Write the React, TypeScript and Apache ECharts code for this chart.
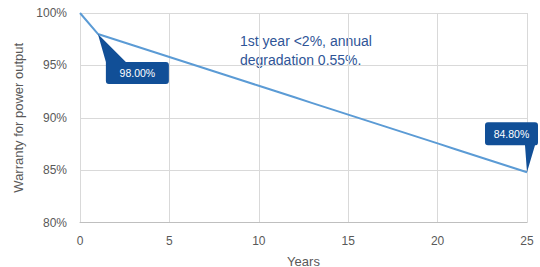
import React, { useEffect, useRef } from "react";
import * as echarts from "echarts";

const years = [0, 1, 2, 3, 4, 5, 6, 7, 8, 9, 10, 11, 12, 13, 14, 15, 16, 17, 18, 19, 20, 21, 22, 23, 24, 25];
const warranty = [100, 98, 97.45, 96.9, 96.35, 95.8, 95.25, 94.7, 94.15, 93.6, 93.05, 92.5, 91.95, 91.4, 90.85, 90.3, 89.75, 89.2, 88.65, 88.1, 87.55, 87.0, 86.45, 85.9, 85.35, 84.8];
const calloutYears = [1, 25];
const noteLines = ["1st year <2%, annual", "degradation 0.55%."];

const FONT = "Liberation Sans";
const CALLOUT_A = "path://M0 0 L28 28 L68 28 Q71 28 71 31 L71 47 Q71 50 68 50 L11 50 Q8 50 8 47 L8 28 Z";
const CALLOUT_B = "path://M3 0 L50 0 Q53 0 53 3 L53 20 Q53 23 51 23 L50 23 L42 50 L40 23 L3 23 Q0 23 0 20 L0 3 Q0 0 3 0 Z";

export default function App() {
  const ref = useRef<HTMLDivElement>(null);
  useEffect(() => {
    document.body.style.margin = "0";
    if (!ref.current) return;
    const chart = echarts.init(ref.current, undefined, { renderer: "svg" });
    const data = years.map((y, i) => [y, warranty[i]]);
    const c0 = calloutYears[0];
    const c1 = calloutYears[1];
    chart.setOption({
      animation: false,
      textStyle: { fontFamily: FONT },
      grid: { left: 80, right: 13, top: 13, bottom: 44.5, containLabel: false, outerBoundsMode: "none" },
      xAxis: {
        type: "value",
        min: 0,
        max: 25,
        interval: 5,
        name: "Years",
        nameLocation: "middle",
        nameGap: 32,
        nameTextStyle: { color: "#595959", fontSize: 13, fontFamily: FONT },
        axisLine: { show: true, lineStyle: { color: "#BFBFBF" } },
        axisTick: { show: false },
        axisLabel: { color: "#595959", fontSize: 12, margin: 12, fontFamily: FONT },
        splitLine: { show: true, lineStyle: { color: "#D9D9D9" } },
      },
      yAxis: {
        type: "value",
        min: 80,
        max: 100,
        interval: 5,
        name: "Warranty for power output",
        nameLocation: "middle",
        nameGap: 43,
        nameTextStyle: { color: "#595959", fontSize: 13, fontFamily: FONT },
        axisLine: { show: false },
        axisTick: { show: false },
        axisLabel: { color: "#595959", fontSize: 12, margin: 13, formatter: "{value}%", fontFamily: FONT },
        splitLine: { show: true, lineStyle: { color: "#D9D9D9" } },
      },
      series: [
        {
          type: "line",
          data,
          showSymbol: false,
          symbol: "none",
          lineStyle: { color: "#5B9BD5", width: 2 },
          clip: false,
          markPoint: {
            silent: true,
            data: [
              {
                coord: [c0, warranty[years.indexOf(c0)]],
                symbol: CALLOUT_A,
                symbolSize: [71, 50],
                symbolOffset: [35.5, 25],
                itemStyle: { color: "#114F97" },
                label: {
                  show: true,
                  formatter: warranty[years.indexOf(c0)].toFixed(2) + "%",
                  color: "#FFFFFF",
                  fontSize: 10.5,
                  fontFamily: FONT,
                  position: "inside",
                  offset: [4, 14],
                },
              },
              {
                coord: [c1, warranty[years.indexOf(c1)]],
                symbol: CALLOUT_B,
                symbolSize: [53, 50],
                symbolOffset: [-15.5, -25],
                itemStyle: { color: "#114F97" },
                label: {
                  show: true,
                  formatter: warranty[years.indexOf(c1)].toFixed(2) + "%",
                  color: "#FFFFFF",
                  fontSize: 10.5,
                  fontFamily: FONT,
                  position: "inside",
                  offset: [0, -13.5],
                },
              },
            ],
          },
        },
      ],
      graphic: [
        {
          type: "text",
          left: 240,
          top: 31,
          style: {
            text: noteLines.join("\n"),
            fill: "#2F5597",
            fontSize: 14,
            lineHeight: 19,
            fontFamily: FONT,
          },
        },
      ],
    });
    return () => chart.dispose();
  }, []);
  return <div ref={ref} style={{ width: 540, height: 267 }} />;
}
